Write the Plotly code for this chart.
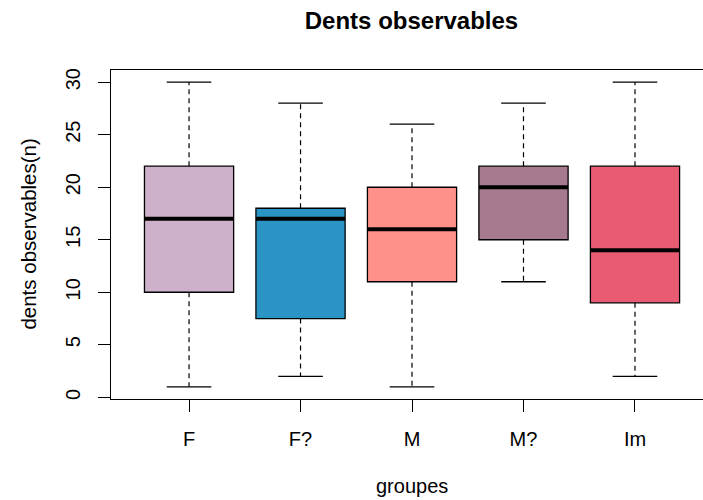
import plotly.graph_objects as go

groups = ["F", "F?", "M", "M?", "Im"]
whisker_low = [1, 2, 1, 11, 2]
q1 = [10, 7.5, 11, 15, 9]
median = [17, 17, 16, 20, 14]
q3 = [22, 18, 20, 22, 22]
whisker_high = [30, 28, 26, 28, 30]
colors = ["#CDB0C9", "#2A95C4", "#FE928A", "#A67A8F", "#E85B73"]
y_ticks = [0, 5, 10, 15, 20, 25, 30]

pos = list(range(1, len(groups) + 1))
boxwex = 0.8
staple = 0.2

fig = go.Figure()

for i, g in enumerate(groups):
    fig.add_trace(go.Box(
        x=[pos[i]], q1=[q1[i]], median=[median[i]], q3=[q3[i]],
        lowerfence=[q1[i]], upperfence=[q3[i]],
        width=boxwex, fillcolor=colors[i],
        line=dict(color="black", width=1.3),
        whiskerwidth=0, showlegend=False, hoverinfo="skip",
    ))

# dashed whiskers
wx, wy = [], []
for i in range(len(groups)):
    wx += [pos[i], pos[i], None, pos[i], pos[i], None]
    wy += [q3[i], whisker_high[i], None, q1[i], whisker_low[i], None]
fig.add_trace(go.Scatter(x=wx, y=wy, mode="lines",
                         line=dict(color="black", width=1.2, dash="5px,4px"),
                         showlegend=False, hoverinfo="skip"))

# staples
sx, sy = [], []
for i in range(len(groups)):
    for v in (whisker_high[i], whisker_low[i]):
        sx += [pos[i] - staple, pos[i] + staple, None]
        sy += [v, v, None]
fig.add_trace(go.Scatter(x=sx, y=sy, mode="lines",
                         line=dict(color="black", width=1.3),
                         showlegend=False, hoverinfo="skip"))

# medians
mx, my = [], []
for i in range(len(groups)):
    mx += [pos[i] - boxwex / 2, pos[i] + boxwex / 2, None]
    my += [median[i], median[i], None]
fig.add_trace(go.Scatter(x=mx, y=my, mode="lines",
                         line=dict(color="black", width=4),
                         showlegend=False, hoverinfo="skip"))

font = "Liberation Sans, Arial, Helvetica, sans-serif"

fig.update_layout(
    width=703, height=500,
    margin=dict(l=111, r=0, t=70, b=101, pad=0),
    paper_bgcolor="white", plot_bgcolor="white",
    font=dict(family=font, size=20, color="black"),
    title=dict(text="<b>Dents observables</b>", x=(111 + 712) / 2 / 703,
               xanchor="center", y=1 - 21 / 500, yanchor="middle",
               font=dict(size=24, family=font, color="black")),
    xaxis=dict(range=[0.3, 5.61], tickmode="array", tickvals=pos, ticktext=groups,
               ticks="outside", ticklen=12, tickwidth=1.2, tickcolor="black",
               showline=True, linecolor="black", linewidth=1.2, mirror=True,
               showgrid=False, zeroline=False, ticklabelstandoff=10,
               tickfont=dict(size=20), automargin=False),
    yaxis=dict(range=[-0.16, 31.16], tickmode="array", tickvals=y_ticks,
               ticks="outside", ticklen=12, tickwidth=1.2, tickcolor="black",
               showline=True, linecolor="black", linewidth=1.2, mirror=False,
               showgrid=False, zeroline=False, tickangle=-90,
               ticklabelstandoff=10, tickfont=dict(size=20), automargin=False),
    annotations=[
        dict(text="groupes", xref="x", x=3.0, yref="paper", y=-0.264,
             xanchor="center", yanchor="middle", showarrow=False,
             font=dict(size=20)),
        dict(text="dents observables(n)", xref="paper", x=-0.14, yref="paper", y=0.5,
             xanchor="center", yanchor="middle", textangle=-90, showarrow=False,
             font=dict(size=20.5)),
    ],
)

fig.write_html(
    "out.html",
    config={"displayModeBar": False, "responsive": False},
    post_script="document.body.style.margin='0';document.body.style.overflow='hidden';",
)
